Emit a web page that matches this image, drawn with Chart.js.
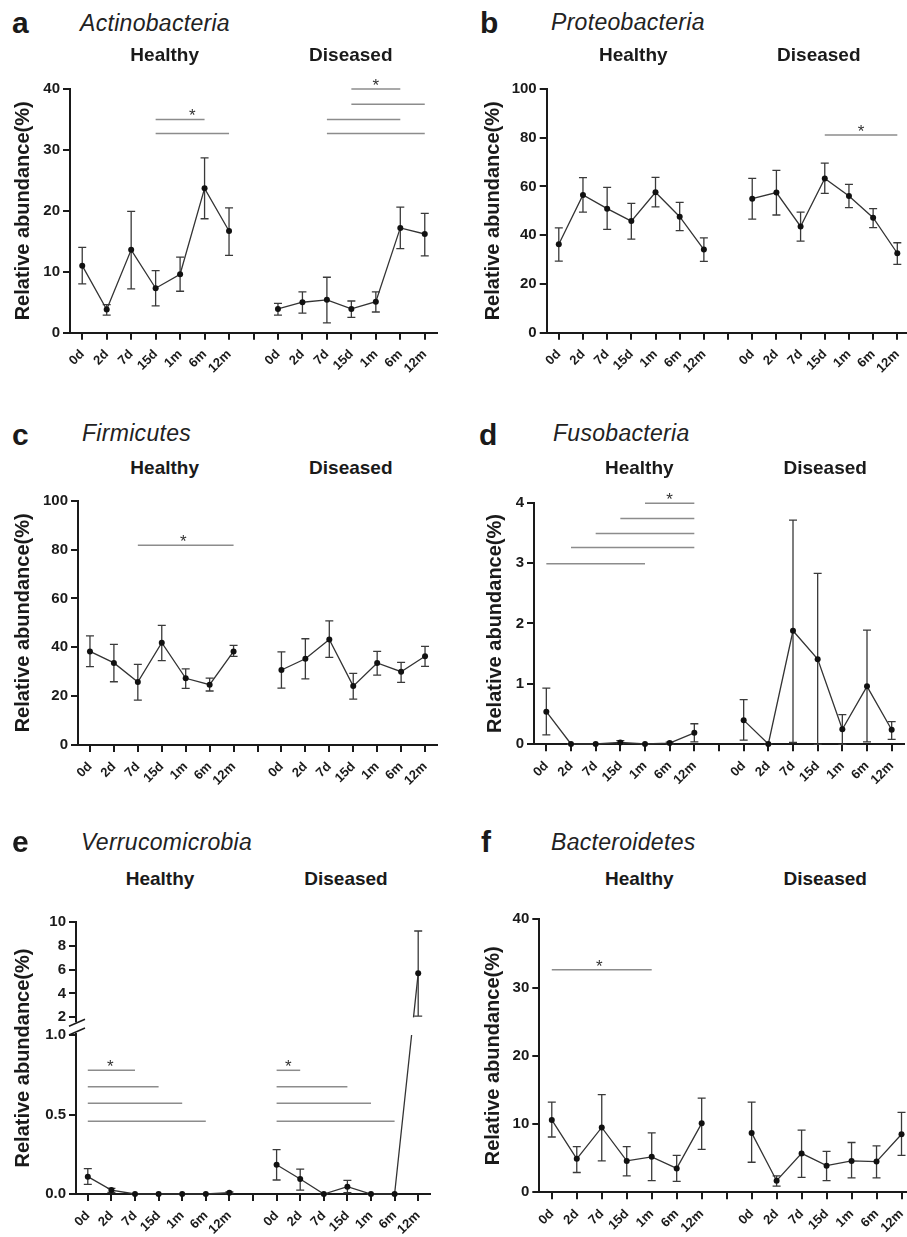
<!DOCTYPE html>
<html><head><meta charset="utf-8">
<script src="https://cdn.jsdelivr.net/npm/chart.js@4.4.0/dist/chart.umd.min.js"></script>
<style>
html,body{margin:0;padding:0;background:#fff;}
body{width:907px;height:1237px;overflow:hidden;position:relative;font-family:"Liberation Sans",Arial,Helvetica,sans-serif;color:#1a1a1a;}
.t{position:absolute;white-space:nowrap;line-height:1;}
.letter{font-weight:bold;font-size:30px;}
.name{font-style:italic;font-size:23px;color:#222;letter-spacing:0.3px;}
.grp{font-weight:bold;font-size:19px;}
.ytl{font-weight:bold;font-size:20px;}
</style></head><body>
<script>
// ---------- data ----------
const timeLabels = ['0d','2d','7d','15d','1m','6m','12m'];
const groupLabels = ['Healthy','Diseased'];
const yTitle = 'Relative abundance(%)';

// a Actinobacteria
const actHMean = [11.0, 3.8, 13.6, 7.3, 9.6, 23.7, 16.7];
const actHLow  = [8.0, 2.9, 7.2, 4.4, 6.8, 18.7, 12.7];
const actHHigh = [14.0, 4.6, 19.9, 10.2, 12.4, 28.7, 20.5];
const actDMean = [3.9, 5.0, 5.4, 3.9, 5.1, 17.2, 16.2];
const actDLow  = [2.9, 3.2, 1.6, 2.5, 3.4, 13.8, 12.6];
const actDHigh = [4.8, 6.7, 9.1, 5.2, 6.7, 20.6, 19.6];
const actSig   = [[3,5,35],[3,6,32.7],[11,13,40],[11,14,37.5],[10,13,35],[10,14,32.7]];
const actStars = [[4.5,35],[12,40]];
const actTicks = [0,10,20,30,40];

// b Proteobacteria
const proHMean = [36.3, 56.5, 50.9, 45.8, 57.6, 47.6, 34.1];
const proHLow  = [29.4, 49.5, 42.4, 38.4, 51.6, 41.9, 29.3];
const proHHigh = [43.0, 63.6, 59.6, 53.1, 63.7, 53.5, 38.9];
const proDMean = [55.0, 57.5, 43.6, 63.3, 56.1, 47.2, 32.6];
const proDLow  = [46.6, 48.3, 37.6, 57.2, 51.3, 43.1, 28.0];
const proDHigh = [63.3, 66.6, 49.5, 69.6, 60.9, 50.9, 36.9];
const proSig   = [[11,14,81.1]];
const proStars = [[12.5,81.1]];
const proTicks = [0,20,40,60,80,100];

// c Firmicutes
const firHMean = [38.3, 33.6, 25.8, 41.9, 27.3, 24.7, 38.3];
const firHLow  = [32.1, 25.9, 18.4, 34.5, 23.2, 22.1, 36.3];
const firHHigh = [44.7, 41.2, 33.0, 49.0, 31.2, 27.4, 40.8];
const firDMean = [30.7, 35.3, 43.2, 24.1, 33.6, 30.0, 36.3];
const firDLow  = [23.3, 27.1, 35.9, 18.8, 28.6, 25.6, 32.2];
const firDHigh = [38.1, 43.5, 50.8, 29.3, 38.3, 33.8, 40.4];
const firSig   = [[2,6,81.8]];
const firStars = [[3.9,81.8]];
const firTicks = [0,20,40,60,80,100];

// d Fusobacteria
const fusHMean = [0.54, 0.005, 0.005, 0.03, 0.005, 0.02, 0.19];
const fusHLow  = [0.155, 0, 0, 0.01, 0, 0.005, 0.04];
const fusHHigh = [0.93, 0.01, 0.01, 0.06, 0.01, 0.035, 0.34];
const fusDMean = [0.40, 0.005, 1.88, 1.41, 0.25, 0.96, 0.24];
const fusDLow  = [0.07, 0, 0.03, 0, 0, 0.04, 0.08];
const fusDHigh = [0.74, 0.01, 3.71, 2.83, 0.49, 1.89, 0.375];
const fusSig   = [[4,6,3.99],[3,6,3.74],[2,6,3.49],[1,6,3.26],[0,4,2.99]];
const fusStars = [[5,3.99]];
const fusTicks = [0,1,2,3,4];

// e Verrucomicrobia (broken axis)
const verHMean = [0.109, 0.025, 0, 0, 0, 0, 0.008];
const verHLow  = [0.061, 0.01, 0, 0, 0, 0, 0.003];
const verHHigh = [0.159, 0.036, 0, 0, 0, 0, 0.013];
const verDMean = [0.184, 0.094, 0, 0.046, 0, 0, 5.68];
const verDLow  = [0.088, 0.025, 0, 0.008, 0, 0, 2.1];
const verDHigh = [0.279, 0.157, 0, 0.086, 0, 0, 9.22];
const verSig   = [[0,2,0.778],[0,3,0.675],[0,4,0.570],[0,5,0.457],[8,9,0.778],[8,11,0.675],[8,12,0.570],[8,13,0.457]];
const verStars = [[0.95,0.778],[8.5,0.778]];
const verLowerTicks = [0, 0.5, 1.0];
const verLowerTickLabels = ['0.0', '0.5', '1.0'];
const verUpperTicks = [2, 4, 6, 8, 10];

// f Bacteroidetes
const bacHMean = [10.6, 4.9, 9.5, 4.6, 5.2, 3.5, 10.1];
const bacHLow  = [8.1, 2.9, 4.6, 2.4, 1.7, 1.6, 6.3];
const bacHHigh = [13.2, 6.7, 14.3, 6.7, 8.7, 5.4, 13.8];
const bacDMean = [8.7, 1.7, 5.7, 3.9, 4.6, 4.5, 8.5];
const bacDLow  = [4.4, 0.9, 2.2, 1.7, 2.1, 2.1, 5.4];
const bacDHigh = [13.2, 2.4, 9.1, 6.0, 7.3, 6.8, 11.7];
const bacSig   = [[0,4,32.6]];
const bacStars = [[1.9,32.6]];
const bacTicks = [0,10,20,30,40];

// ---------- layout / style ----------
const FONT = '"Liberation Sans", Arial, Helvetica, sans-serif';
const AX = '#1a1a1a';
Chart.defaults.font.family = FONT;

const panels = [
  {letter:'a', name:'Actinobacteria', cx:0, cy:55, cw:452, ch:345, area:[70,437,89,332.7], titleX:23,
   lx:12, lb:33.3, nx:80, nb:31.7, gb:61, gc:[164.7,350.8],
   hMean:actHMean,hLow:actHLow,hHigh:actHHigh,dMean:actDMean,dLow:actDLow,dHigh:actDHigh,sig:actSig,stars:actStars,ticks:actTicks},
  {letter:'b', name:'Proteobacteria', cx:450, cy:55, cw:470, ch:345, area:[546.7,909.4,89,332.7], titleX:493,
   lx:480, lb:33.3, nx:551, nb:30.5, gb:61, gc:[633.3,818.8],
   hMean:proHMean,hLow:proHLow,hHigh:proHHigh,dMean:proDMean,dLow:proDLow,dHigh:proDHigh,sig:proSig,stars:proStars,ticks:proTicks},
  {letter:'c', name:'Firmicutes', cx:0, cy:480, cw:452, ch:320, area:[78,437,500.7,745], titleX:23,
   lx:12, lb:445, nx:82, nb:441.7, gb:474, gc:[164.7,350.8],
   hMean:firHMean,hLow:firHLow,hHigh:firHHigh,dMean:firDMean,dLow:firDLow,dHigh:firDHigh,sig:firSig,stars:firStars,ticks:firTicks},
  {letter:'d', name:'Fusobacteria', cx:450, cy:480, cw:470, ch:320, area:[534,904,502.7,744.3], titleX:495,
   lx:479, lb:445, nx:553, nb:441.7, gb:474, gc:[639.3,825.2],
   hMean:fusHMean,hLow:fusHLow,hHigh:fusHHigh,dMean:fusDMean,dLow:fusDLow,dHigh:fusDHigh,sig:fusSig,stars:fusStars,ticks:fusTicks},
  {letter:'e', name:'Verrucomicrobia', cx:0, cy:900, cw:452, ch:337, area:[76,430,921.7,1194], titleX:22,
   lx:12, lb:852.7, nx:81, nb:850, gb:885, gc:[160,346],
   hMean:verHMean,hLow:verHLow,hHigh:verHHigh,dMean:verDMean,dLow:verDLow,dHigh:verDHigh,sig:verSig,stars:verStars,
   ticks:verLowerTicks, tickLabels:verLowerTickLabels,
   brk:{value:1, lowerTop:1035, upperMin:0.52, upperMax:10, upperTicks:verUpperTicks}},
  {letter:'f', name:'Bacteroidetes', cx:450, cy:900, cw:470, ch:337, area:[539.3,914,919.3,1192.3], titleX:493,
   lx:481, lb:852.7, nx:551, nb:850, gb:885, gc:[639.3,825.2],
   hMean:bacHMean,hLow:bacHLow,hHigh:bacHHigh,dMean:bacDMean,dLow:bacDLow,dHigh:bacDHigh,sig:bacSig,stars:bacStars,ticks:bacTicks}
];

function addText(txt, cls, left, baseline, fs, center){
  const d = document.createElement('div');
  d.className = 't ' + cls; d.textContent = txt;
  d.style.left = left + 'px';
  d.style.top = (baseline - 0.8465*fs) + 'px';
  if (center) d.style.transform = 'translateX(-50%)';
  document.body.appendChild(d);
}

function yAxis(ticks, labels, min, max, width, extra){
  return Object.assign({
    type:'linear', position:'left', min:min, max:max, bounds:'data',
    grid:{drawOnChartArea:false, drawTicks:true, tickLength:7, color:AX, lineWidth:2},
    border:{display:true, color:AX, width:2},
    ticks:{autoSkip:false, color:AX, padding:3, font:{size:15, weight:'bold'},
      callback:(v, i)=> labels ? labels[i] : String(v)},
    afterBuildTicks(s){ s.ticks = ticks.map(v=>({value:v})); },
    afterFit(s){ s.width = width; }
  }, extra || {});
}

function makePanel(p){
  const canvas = document.createElement('canvas');
  canvas.width = p.cw; canvas.height = p.ch;
  canvas.style.cssText = `position:absolute;left:${p.cx}px;top:${p.cy}px;width:${p.cw}px;height:${p.ch}px;`;
  document.body.appendChild(canvas);

  const [L,R,T,B] = p.area;
  const yw = L - p.cx, padTop = T - p.cy, padRight = p.cw - (R - p.cx), xh = p.ch - (B - p.cy);

  const labels = [...timeLabels, '', ...timeLabels];
  const mean = [...p.hMean, null, ...p.dMean];
  const lo = [...p.hLow, null, ...p.dLow];
  const hi = [...p.hHigh, null, ...p.dHigh];
  const brk = p.brk;
  const isUpper = i => !!brk && mean[i] != null && mean[i] > brk.value;

  const lineStyle = {borderColor:'#333', borderWidth:1.3, pointRadius:3, pointBackgroundColor:'#111',
    pointBorderWidth:0, spanGaps:false, tension:0, clip:false};
  const datasets = [Object.assign({data: mean.map((v,i)=> isUpper(i) ? null : v), yAxisID:'y'}, lineStyle)];
  if (brk) datasets.push(Object.assign({data: mean.map((v,i)=> isUpper(i) ? v : null), yAxisID:'y2', showLine:false}, lineStyle));

  const scales = {
    x:{type:'category', offset:true,
      grid:{offset:false, drawOnChartArea:false, drawTicks:true, tickLength:7, color:AX, lineWidth:2},
      border:{display:true, color:AX, width:2},
      ticks:{autoSkip:false, minRotation:45, maxRotation:45, padding:7, color:AX, font:{size:13, weight:'bold'}},
      afterFit(s){ s.height = xh; }}
  };
  if (!brk) {
    const tk = p.ticks;
    scales.y = yAxis(tk, null, tk[0], tk[tk.length-1], yw, {
      title:{display:true, text:yTitle, color:AX, font:{size:20, weight:'bold'}, padding:{top:p.titleX - p.cx - 12, bottom:0}}
    });
  } else {
    const lowH = B - brk.lowerTop, upH = brk.lowerTop - T;
    scales.y = yAxis(p.ticks, p.tickLabels, p.ticks[0], p.ticks[p.ticks.length-1], yw, {stack:'brk', stackWeight:lowH, weight:0});
    scales.y2 = yAxis(brk.upperTicks, null, brk.upperMin, brk.upperMax, yw, {stack:'brk', stackWeight:upH, weight:1});
    const d = document.createElement('div');
    d.className = 't ytl'; d.textContent = yTitle;
    d.style.left = p.titleX + 'px'; d.style.top = ((T + B)/2) + 'px';
    d.style.transform = 'translate(-50%,-50%) rotate(-90deg)';
    document.body.appendChild(d);
  }

  const axisFor = (chart, i) => isUpper(i) ? chart.scales.y2 : chart.scales.y;

  const errPlugin = {
    id:'errbars',
    beforeDatasetsDraw(chart){
      const ctx = chart.ctx, xs = chart.scales.x;
      ctx.save();
      ctx.strokeStyle = '#3a3a3a'; ctx.lineWidth = 1.3;
      for (let i=0;i<mean.length;i++){
        if (mean[i] == null) continue;
        const ys = axisFor(chart, i);
        const x = xs.getPixelForValue(i);
        const yl = ys.getPixelForValue(lo[i]), yh = ys.getPixelForValue(hi[i]);
        ctx.beginPath();
        ctx.moveTo(x, yl); ctx.lineTo(x, yh);
        ctx.moveTo(x-4, yl); ctx.lineTo(x+4, yl);
        ctx.moveTo(x-4, yh); ctx.lineTo(x+4, yh);
        ctx.stroke();
      }
      if (brk) {
        const yL = chart.scales.y, yU = chart.scales.y2;
        ctx.strokeStyle = '#333'; ctx.lineWidth = 1.3;
        for (let i=1;i<mean.length;i++){
          if (isUpper(i) && mean[i-1] != null && !isUpper(i-1)) {
            const xa = xs.getPixelForValue(i-1), ya = yL.getPixelForValue(mean[i-1]);
            const xb = xs.getPixelForValue(i), yb = yU.getPixelForValue(mean[i]);
            const c1 = yL.getPixelForValue(brk.value), c2 = yU.getPixelForValue(brk.upperTicks[0]);
            const t1 = (c1 - ya)/(yb - ya), t2 = (c2 - ya)/(yb - ya);
            ctx.beginPath();
            ctx.moveTo(xa, ya); ctx.lineTo(xa + t1*(xb-xa), c1);
            ctx.moveTo(xa + t2*(xb-xa), c2); ctx.lineTo(xb, yb);
            ctx.stroke();
          }
        }
      }
      ctx.restore();
    },
    afterDatasetsDraw(chart){
      const ctx = chart.ctx, xs = chart.scales.x, ys = chart.scales.y;
      ctx.save();
      ctx.strokeStyle = '#8c8c8c'; ctx.lineWidth = 1.5;
      for (const [a,b,v] of p.sig){
        const y = ys.getPixelForValue(v);
        ctx.beginPath(); ctx.moveTo(xs.getPixelForValue(a), y); ctx.lineTo(xs.getPixelForValue(b), y); ctx.stroke();
      }
      ctx.fillStyle = '#333'; ctx.font = '17px ' + FONT; ctx.textAlign = 'center'; ctx.textBaseline = 'alphabetic';
      for (const [xi, v] of p.stars){
        ctx.fillText('*', xs.getPixelForValue(xi), ys.getPixelForValue(v) + 2);
      }
      ctx.restore();
    },
    afterDraw(chart){
      if (!brk) return;
      const ctx = chart.ctx, x = chart.chartArea.left;
      const top = chart.scales.y2.getPixelForValue(brk.upperTicks[0]) + 5;
      const bot = chart.scales.y.getPixelForValue(brk.value) - 2;
      ctx.save();
      ctx.fillStyle = '#fff'; ctx.fillRect(x-3, top, 6, bot-top);
      ctx.strokeStyle = AX; ctx.lineWidth = 1.5;
      ctx.beginPath();
      for (const yc of [top+0.5, bot-1.5]) { ctx.moveTo(x-7, yc+3.5); ctx.lineTo(x+9, yc-3.5); }
      ctx.stroke();
      ctx.restore();
    }
  };

  new Chart(canvas, {
    type:'line',
    data:{labels, datasets},
    options:{
      responsive:false, animation:false, devicePixelRatio:1,
      layout:{padding:{top:padTop, right:padRight, bottom:0, left:0}},
      plugins:{legend:{display:false}, tooltip:{enabled:false}},
      scales
    },
    plugins:[errPlugin]
  });

  addText(p.letter, 'letter', p.lx, p.lb, 30, false);
  addText(p.name, 'name', p.nx, p.nb, 23, false);
  addText(groupLabels[0], 'grp', p.gc[0], p.gb, 19, true);
  addText(groupLabels[1], 'grp', p.gc[1], p.gb, 19, true);
}

panels.forEach(makePanel);
</script>
</body></html>
